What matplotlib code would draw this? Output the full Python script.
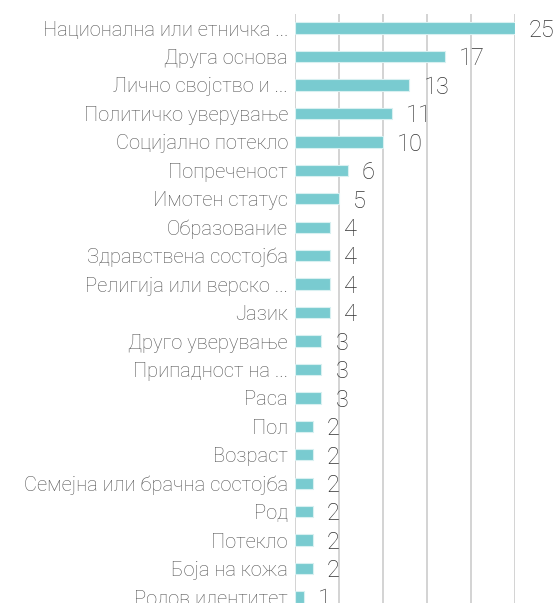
import numpy as np
from matplotlib import pyplot as plt

# Data
categories = [
    "Национална или етничка ...",
    "Друга основа",
    "Лично својство и ...",
    "Политичко уверување",
    "Социјално потекло",
    "Попреченост",
    "Имотен статус",
    "Образование",
    "Здравствена состојба",
    "Религија или верско ...",
    "Јазик",
    "Друго уверување",
    "Припадност на ...",
    "Раса",
    "Пол",
    "Возраст",
    "Семејна или брачна состојба",
    "Род",
    "Потекло",
    "Боја на кожа",
    "Родов идентитет",
]
values = [25, 17, 13, 11, 10, 6, 5, 4, 4, 4, 4, 3, 3, 3, 2, 2, 2, 2, 2, 2, 1]
x_ticks = [0, 5, 10, 15, 20, 25]

plt.rcParams["font.family"] = ["Roboto", "DejaVu Sans"]

fig = plt.figure(figsize=(5.56, 6.03), dpi=100)
ax = fig.add_axes([0.5306, 0.0, 0.3957, 0.977])

y = np.arange(len(categories))
ax.barh(y, values, height=0.4, color="#79cbd0", edgecolor="#d8f0f1",
        linewidth=0.8, zorder=3)

for yi, v in zip(y, values):
    ax.text(v + 1.6, yi + 0.08, str(v), va="center", ha="left", fontsize=17,
            fontweight="light", color="#333333")

ax.set_xlim(0, 25)
ax.set_ylim(len(categories) - 1 + 0.21, -0.5)
ax.set_xticks(x_ticks)
ax.set_xticklabels([])
ax.set_yticks(y)
ax.set_yticklabels(categories, fontsize=14.5, fontweight="light", color="#555555")
ax.tick_params(axis="both", length=0)
ax.tick_params(axis="y", pad=5)
ax.grid(axis="x", color="#d0d0d0", linewidth=1.3, zorder=0)
for spine in ax.spines.values():
    spine.set_visible(False)

fig.savefig("out.png", dpi=100)
